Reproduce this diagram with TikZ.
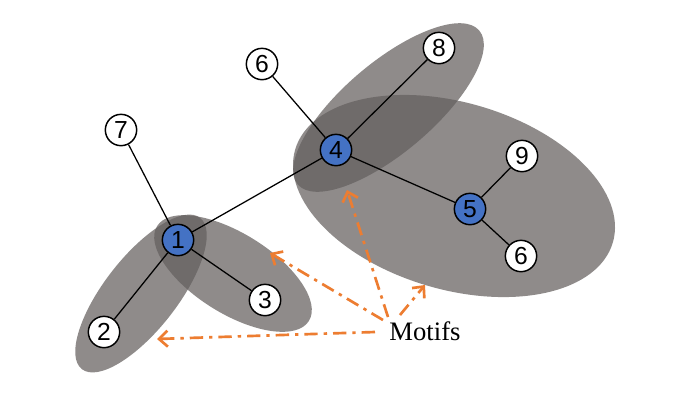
\documentclass[tikz,border=0pt]{standalone}
\usepackage{fontspec}
\setmainfont{Liberation Serif}
\newfontfamily\numfont{Liberation Sans}
\usetikzlibrary{arrows.meta}
\definecolor{motifgray}{RGB}{100,95,94}
\definecolor{nodeblue}{RGB}{68,114,196}
\definecolor{arrorange}{RGB}{237,125,49}
\tikzset{
  vtx/.style={circle, draw=black, line width=1.1pt, fill=white, minimum size=23.5pt, inner sep=0pt, font=\numfont\fontsize{18.5}{18.5}\selectfont},
  hub/.style={vtx, fill=nodeblue},
  motif/.style={fill=motifgray, fill opacity=0.72},
  edge/.style={black, line width=0.95pt},
  pointer/.style={arrorange, line width=2pt, dash pattern=on 10pt off 4.5pt on 2.5pt off 4.5pt, -{Straight Barb[length=6.5pt,width=12pt,line width=2pt]}}
}
\begin{document}
\begin{tikzpicture}[x=0.75pt,y=-0.75pt]
\useasboundingbox[fill=white] (0,0) rectangle (689,401);
% motif ellipses
\fill[motif] (141,293.5) ellipse[x radius=96, y radius=36.5, rotate=52];
\fill[motif] (233,273.5) ellipse[x radius=89.5, y radius=40, rotate=-32];
\fill[motif] (388.5,107.5) ellipse[x radius=119, y radius=45, rotate=40.3];
\fill[motif] (454,196) ellipse[x radius=165.5, y radius=93.5, rotate=-16.3];
% vertices
\node[vtx] (n7) at (121,130) {7};
\node[hub] (n1) at (178,240) {1};
\node[vtx] (n2) at (104,332) {2};
\node[vtx] (n3) at (265,300) {3};
\node[vtx] (n6a) at (262,64) {6};
\node[hub] (n4) at (336,150) {4};
\node[vtx] (n8) at (439,48) {8};
\node[vtx] (n9) at (522,156) {9};
\node[hub] (n5) at (470,209) {5};
\node[vtx] (n6b) at (521,256) {6};
% edges
\draw[edge] (n7) -- (n1);
\draw[edge] (n1) -- (n2);
\draw[edge] (n1) -- (n3);
\draw[edge] (n1) -- (n4);
\draw[edge] (n6a) -- (n4);
\draw[edge] (n4) -- (n8);
\draw[edge] (n4) -- (n5);
\draw[edge] (n5) -- (n9);
\draw[edge] (n5) -- (n6b);
% label and pointers
\node[font=\fontsize{20}{20}\selectfont, inner sep=0pt] (motifs) at (425,331) {Motifs};
\coordinate (sA) at (375,332);
\coordinate (sB) at (383,320);
\coordinate (sC) at (388,317);
\coordinate (sD) at (400,315);
\coordinate (tA) at (157,339);
\coordinate (tB) at (270,253);
\coordinate (tC) at (347,190);
\coordinate (tD) at (425,285);
\draw[pointer] (sA) -- (tA);
\draw[pointer] (sB) -- (tB);
\draw[pointer] (sC) -- (tC);
\draw[pointer] (sD) -- (tD);
\end{tikzpicture}
\end{document}
